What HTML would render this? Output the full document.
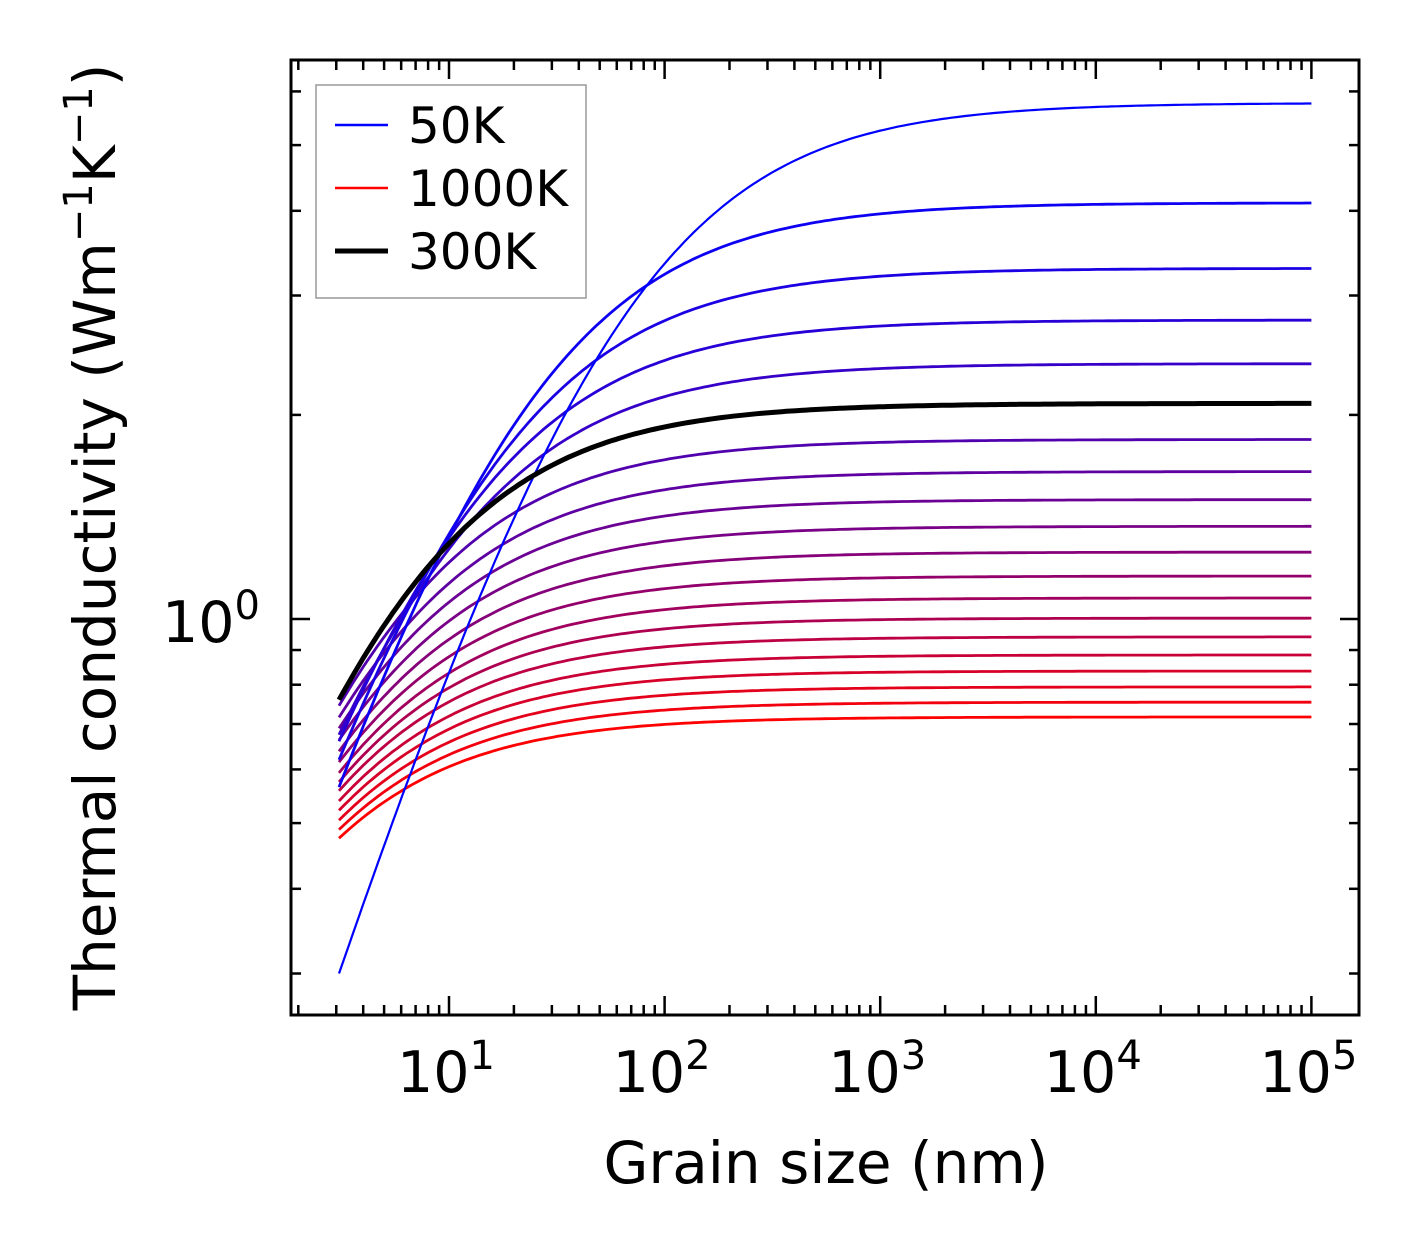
<!DOCTYPE html>
<html><head><meta charset="utf-8"><style>
body{margin:0;background:#fff}
svg text{font-family:"DejaVu Sans","Liberation Sans",sans-serif;fill:#000}
</style></head><body>
<svg width="1421" height="1254" viewBox="0 0 1421 1254">
<g id="curves"></g>
<g id="ticks"></g>
<rect x="291" y="60" width="1068" height="955" fill="none" stroke="#000" stroke-width="3"/>
<g>
<rect x="316" y="85" width="270" height="213" fill="#fff" stroke="#999" stroke-width="1.5"/>
<line x1="335" y1="125" x2="388" y2="125" stroke="#0000ff" stroke-width="2.5"/>
<text x="408" y="143" font-size="50">50K</text>
<line x1="335" y1="188" x2="388" y2="188" stroke="#ff0000" stroke-width="2.5"/>
<text x="408" y="206" font-size="50">1000K</text>
<line x1="335" y1="251" x2="388" y2="251" stroke="#000" stroke-width="5"/>
<text x="408" y="269" font-size="50">300K</text>
</g>
<g id="labels"></g>
<text x="826" y="1183" font-size="58" text-anchor="middle">Grain size (nm)</text>
<text transform="translate(115,537) rotate(-90)" font-size="58" text-anchor="middle">Thermal conductivity (Wm<tspan dy="-23" font-size="40">−1</tspan><tspan dy="23">K</tspan><tspan dy="-23" font-size="40">−1</tspan><tspan dy="23">)</tspan></text>
</svg>
<script>
const temps=[50,100,150,200,250,300,350,400,450,500,550,600,650,700,750,800,850,900,950,1000];
const kBulk=[5.77,4.11,3.29,2.76,2.38,2.08,1.84,1.65,1.50,1.37,1.255,1.157,1.074,1.003,0.941,0.885,0.838,0.794,0.754,0.717];
const kStart=[0.30,0.565,0.62,0.66,0.675,0.76,0.745,0.716,0.69,0.663,0.638,0.615,0.593,0.575,0.558,0.539,0.522,0.505,0.489,0.475];
const xTickExps=[1,2,3,4,5];
const L0=3.09,L1=1e5,P=0.85;
const NS="http://www.w3.org/2000/svg";
const X=v=>449+(Math.log10(v)-1)*215.6;
const Y=v=>619-Math.log10(v)*678;
const cg=document.getElementById('curves');
temps.forEach((t,i)=>{
  const kb=kBulk[i],k0=kStart[i];
  const lam=L0*Math.pow(Math.pow(kb/k0,P)-1,1/P);
  let d='';
  for(let j=0;j<=200;j++){
    const L=Math.pow(10,Math.log10(L0)+(Math.log10(L1)-Math.log10(L0))*j/200);
    const k=kb/Math.pow(1+Math.pow(lam/L,P),1/P);
    d+=(j?'L':'M')+X(L).toFixed(1)+','+Y(k).toFixed(1);
  }
  const p=document.createElementNS(NS,'path');
  p.setAttribute('d',d);
  const f=i/(temps.length-1);
  p.setAttribute('stroke',t===300?'#000':`rgb(${Math.round(255*f)},0,${Math.round(255*(1-f))})`);
  p.setAttribute('stroke-width',t===300?5:(t===50?2.2:2.8));
  p.setAttribute('fill','none');
  
  
  if(t===300)cg.appendChild(p);else cg.insertBefore(p,cg.firstChild);
});
const tg=document.getElementById('ticks');
function ln(x1,y1,x2,y2,name){const l=document.createElementNS(NS,'line');
l.setAttribute('x1',x1);l.setAttribute('y1',y1);l.setAttribute('x2',x2);l.setAttribute('y2',y2);
l.setAttribute('stroke','#000');l.setAttribute('stroke-width',2.5);


tg.appendChild(l);}
for(let e=0;e<=5;e++)for(let m=1;m<10;m++){const v=m*Math.pow(10,e);const x=X(v);if(x<292||x>1358)continue;
const len=m===1?19:10;ln(x,1015,x,1015-len,'x-tick');ln(x,60,x,60+len,'x-tick-top');}
for(let e=-1;e<=0;e++)for(let m=1;m<10;m++){const v=m*Math.pow(10,e);const y=Y(v);if(y<61||y>1014)continue;
const len=(m===1&&e===0)?19:10;ln(291,y,291+len,y,'y-tick');ln(1359,y,1359-len,y,'y-tick-right');}
const lg=document.getElementById('labels');
xTickExps.forEach(e=>{const t=document.createElementNS(NS,'text');
t.setAttribute('x',X(Math.pow(10,e))-3);t.setAttribute('y',1092);t.setAttribute('font-size','57');t.setAttribute('text-anchor','middle');
t.innerHTML='10<tspan dy="-23" font-size="40">'+e+'</tspan>';


lg.appendChild(t);});
const yt=document.createElementNS(NS,'text');
yt.setAttribute('x',162);yt.setAttribute('y',642);yt.setAttribute('font-size','57');
yt.innerHTML='10<tspan dy="-23" font-size="40">0</tspan>';


lg.appendChild(yt);
</script>
</body></html>
